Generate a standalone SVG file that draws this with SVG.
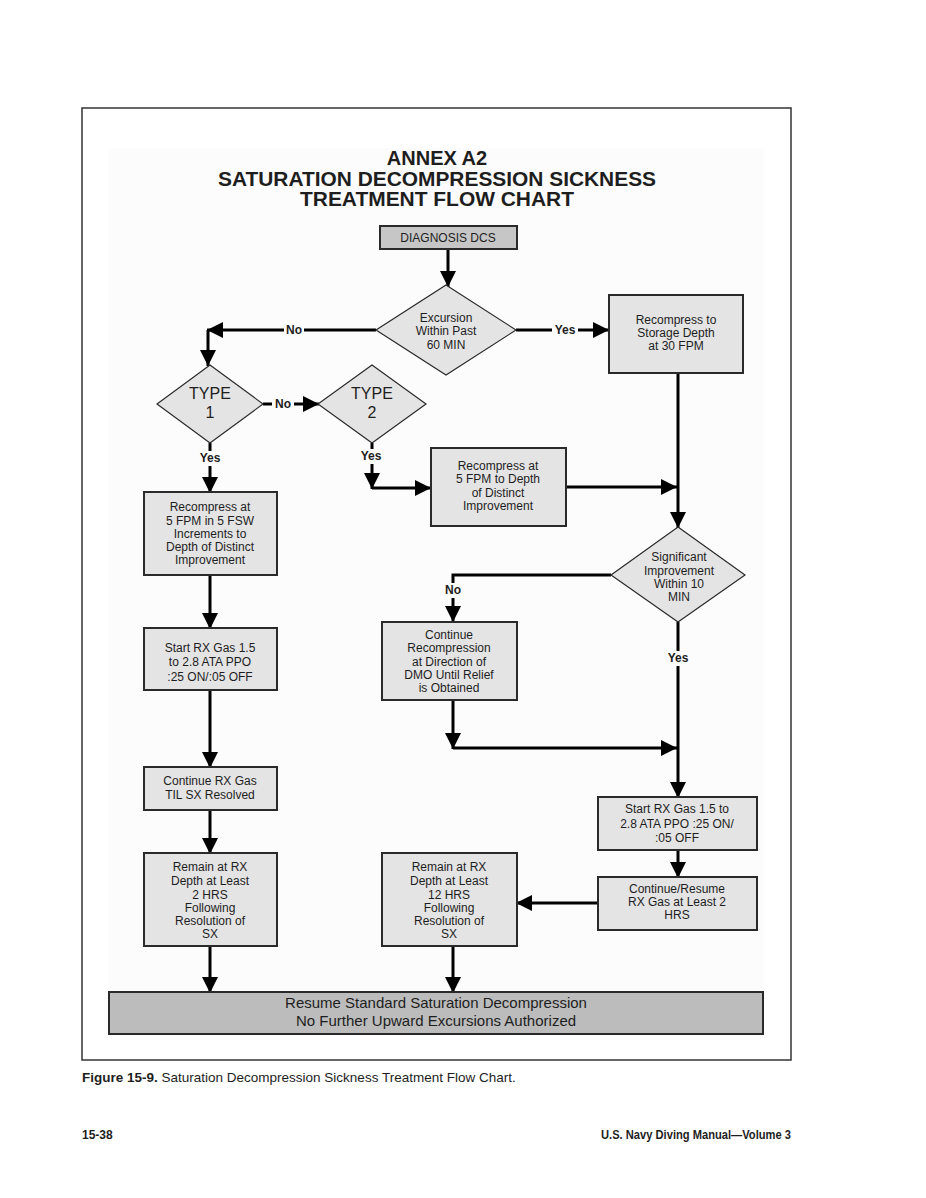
<svg xmlns="http://www.w3.org/2000/svg" width="926" height="1198" viewBox="0 0 926 1198">
<style>
  text { font-family: "Liberation Sans", Arial, sans-serif; fill: #1e1e1e; }
  .t { font-size: 12px; text-anchor: middle; }
  .ty { font-size: 16px; text-anchor: middle; }
  .lbl { font-size: 12px; font-weight: bold; text-anchor: middle; }
  .title { font-size: 20px; font-weight: bold; text-anchor: middle; }
  .box { fill: #e4e4e4; stroke: #2a2a2a; stroke-width: 2; }
  .dbox { fill: #c6c6c6; stroke: #2a2a2a; stroke-width: 2; }
  .bbox { fill: #bcbcbc; stroke: #2a2a2a; stroke-width: 2; }
  .dia { fill: #e4e4e4; stroke: #2a2a2a; stroke-width: 1.2; }
  .c { fill: none; stroke: #000; stroke-width: 3; }
  .lb { fill: #fcfcfc; }
</style>
<defs>
  <marker id="ah" markerUnits="userSpaceOnUse" markerWidth="16" markerHeight="16" viewBox="0 0 16 16" refX="16" refY="8" orient="auto">
    <path d="M0,0 L16,8 L0,16 Z" fill="#000"/>
  </marker>
</defs>
<rect width="926" height="1198" fill="#ffffff"/>
<rect x="82" y="108" width="709" height="952" fill="#ffffff" stroke="#333" stroke-width="1.5"/>
<rect x="108" y="148" width="657" height="888" fill="#fcfcfc"/>

<g id="title">
  <text class="title" x="437" y="165">ANNEX A2</text>
  <text class="title" x="437" y="186" textLength="438" lengthAdjust="spacingAndGlyphs">SATURATION DECOMPRESSION SICKNESS</text>
  <text class="title" x="437" y="206" textLength="274" lengthAdjust="spacingAndGlyphs">TREATMENT FLOW CHART</text>
</g>

<g id="connectors">
  <path class="c" d="M448,249 V287" marker-end="url(#ah)"/>
  <path class="c" d="M376,330 H207" marker-end="url(#ah)"/>
  <path class="c" d="M208,330 V366" marker-end="url(#ah)"/>
  <path class="c" d="M516,330 H609" marker-end="url(#ah)"/>
  <path class="c" d="M678,373 V528" marker-end="url(#ah)"/>
  <path class="c" d="M263,404 H319" marker-end="url(#ah)"/>
  <path class="c" d="M210,443 V493" marker-end="url(#ah)"/>
  <path class="c" d="M372,443 V489" marker-end="url(#ah)"/>
  <path class="c" d="M372,488 H431" marker-end="url(#ah)"/>
  <path class="c" d="M566,487 H677" marker-end="url(#ah)"/>
  <path class="c" d="M611,575 H453 V622" marker-end="url(#ah)"/>
  <path class="c" d="M453,700 V749" marker-end="url(#ah)"/>
  <path class="c" d="M453,748 H677" marker-end="url(#ah)"/>
  <path class="c" d="M678,622 V798" marker-end="url(#ah)"/>
  <path class="c" d="M678,850 V878" marker-end="url(#ah)"/>
  <path class="c" d="M598,903 H516" marker-end="url(#ah)"/>
  <path class="c" d="M210,575 V629" marker-end="url(#ah)"/>
  <path class="c" d="M210,690 V768" marker-end="url(#ah)"/>
  <path class="c" d="M210,810 V854" marker-end="url(#ah)"/>
  <path class="c" d="M210,946 V993" marker-end="url(#ah)"/>
  <path class="c" d="M453,946 V993" marker-end="url(#ah)"/>
  <rect class="lb" x="284" y="322" width="20" height="16"/>
  <text class="lbl" x="294" y="334">No</text>
  <rect class="lb" x="552" y="322" width="26" height="16"/>
  <text class="lbl" x="565" y="334">Yes</text>
  <rect class="lb" x="272" y="396" width="22" height="16"/>
  <text class="lbl" x="283" y="408">No</text>
  <rect class="lb" x="196" y="451" width="28" height="15"/>
  <text class="lbl" x="210" y="462">Yes</text>
  <rect class="lb" x="358" y="449" width="28" height="15"/>
  <text class="lbl" x="371" y="460">Yes</text>
  <rect class="lb" x="443" y="583" width="20" height="15"/>
  <text class="lbl" x="453" y="594">No</text>
  <rect class="lb" x="664" y="651" width="28" height="15"/>
  <text class="lbl" x="678" y="662">Yes</text>
</g>

<g id="diagnosis">
  <rect class="dbox" x="380" y="226" width="137" height="23"/>
  <text class="t" x="448" y="242">DIAGNOSIS DCS</text>
</g>

<g id="excursion">
  <polygon class="dia" points="446,285 516,330 446,375 376,330"/>
  <text class="t" x="446" y="322">Excursion</text>
  <text class="t" x="446" y="335">Within Past</text>
  <text class="t" x="446" y="349">60 MIN</text>
</g>

<g id="recompress-storage">
  <rect class="box" x="609" y="295" width="134" height="78"/>
  <text class="t" x="676" y="324">Recompress to</text>
  <text class="t" x="676" y="337">Storage Depth</text>
  <text class="t" x="676" y="350">at 30 FPM</text>
</g>

<g id="type1">
  <polygon class="dia" points="210,365 263,404 210,443 157,404"/>
  <text class="ty" x="210" y="399">TYPE</text>
  <text class="ty" x="210" y="418">1</text>
</g>

<g id="type2">
  <polygon class="dia" points="372,365 426,404 372,443 318,404"/>
  <text class="ty" x="372" y="399">TYPE</text>
  <text class="ty" x="372" y="418">2</text>
</g>

<g id="recompress-5fsw">
  <rect class="box" x="144" y="492" width="133" height="83"/>
  <text class="t" x="210" y="511">Recompress at</text>
  <text class="t" x="210" y="525">5 FPM in 5 FSW</text>
  <text class="t" x="210" y="538">Increments to</text>
  <text class="t" x="210" y="551">Depth of Distinct</text>
  <text class="t" x="210" y="564">Improvement</text>
</g>

<g id="recompress-type2">
  <rect class="box" x="431" y="448" width="135" height="78"/>
  <text class="t" x="498" y="470">Recompress at</text>
  <text class="t" x="498" y="483">5 FPM to Depth</text>
  <text class="t" x="498" y="497">of Distinct</text>
  <text class="t" x="498" y="510">Improvement</text>
</g>

<g id="significant">
  <polygon class="dia" points="678,527 745,575 678,622 611,575"/>
  <text class="t" x="679" y="561">Significant</text>
  <text class="t" x="679" y="575">Improvement</text>
  <text class="t" x="679" y="588">Within 10</text>
  <text class="t" x="679" y="601">MIN</text>
</g>

<g id="continue-recompression">
  <rect class="box" x="382" y="622" width="135" height="78"/>
  <text class="t" x="449" y="639">Continue</text>
  <text class="t" x="449" y="652">Recompression</text>
  <text class="t" x="449" y="666">at Direction of</text>
  <text class="t" x="449" y="679">DMO Until Relief</text>
  <text class="t" x="449" y="692">is Obtained</text>
</g>

<g id="start-rx-left">
  <rect class="box" x="144" y="628" width="133" height="62"/>
  <text class="t" x="210" y="652">Start RX Gas 1.5</text>
  <text class="t" x="210" y="666">to 2.8 ATA PPO</text>
  <text class="t" x="210" y="681">:25 ON/:05 OFF</text>
</g>

<g id="continue-rx-left">
  <rect class="box" x="144" y="767" width="133" height="43"/>
  <text class="t" x="210" y="785">Continue RX Gas</text>
  <text class="t" x="210" y="799">TIL SX Resolved</text>
</g>

<g id="remain-2hrs">
  <rect class="box" x="144" y="853" width="133" height="93"/>
  <text class="t" x="210" y="871">Remain at RX</text>
  <text class="t" x="210" y="885">Depth at Least</text>
  <text class="t" x="210" y="899">2 HRS</text>
  <text class="t" x="210" y="912">Following</text>
  <text class="t" x="210" y="925">Resolution of</text>
  <text class="t" x="210" y="938">SX</text>
</g>

<g id="start-rx-right">
  <rect class="box" x="598" y="797" width="159" height="53"/>
  <text class="t" x="677" y="813">Start RX Gas 1.5 to</text>
  <text class="t" x="677" y="828">2.8 ATA PPO  :25 ON/</text>
  <text class="t" x="677" y="842">:05 OFF</text>
</g>

<g id="continue-resume">
  <rect class="box" x="598" y="877" width="159" height="53"/>
  <text class="t" x="677" y="893">Continue/Resume</text>
  <text class="t" x="677" y="906">RX Gas at Least 2</text>
  <text class="t" x="677" y="919">HRS</text>
</g>

<g id="remain-12hrs">
  <rect class="box" x="382" y="853" width="135" height="93"/>
  <text class="t" x="449" y="871">Remain at RX</text>
  <text class="t" x="449" y="885">Depth at Least</text>
  <text class="t" x="449" y="899">12 HRS</text>
  <text class="t" x="449" y="912">Following</text>
  <text class="t" x="449" y="925">Resolution of</text>
  <text class="t" x="449" y="938">SX</text>
</g>

<g id="resume-standard">
  <rect class="bbox" x="109" y="992" width="654" height="42"/>
  <text x="436" y="1008" font-size="15" text-anchor="middle">Resume Standard Saturation Decompression</text>
  <text x="436" y="1026" font-size="15" text-anchor="middle">No Further Upward Excursions Authorized</text>
</g>

<g id="caption">
  <text x="82" y="1082" font-size="13.5"><tspan font-weight="bold">Figure 15-9.</tspan>  Saturation Decompression Sickness Treatment Flow Chart.</text>
  <text x="82" y="1139" font-size="12" font-weight="bold">15-38</text>
  <text x="791" y="1139" font-size="12" font-weight="bold" text-anchor="end" textLength="190" lengthAdjust="spacingAndGlyphs">U.S. Navy Diving Manual—Volume 3</text>
</g>
</svg>
